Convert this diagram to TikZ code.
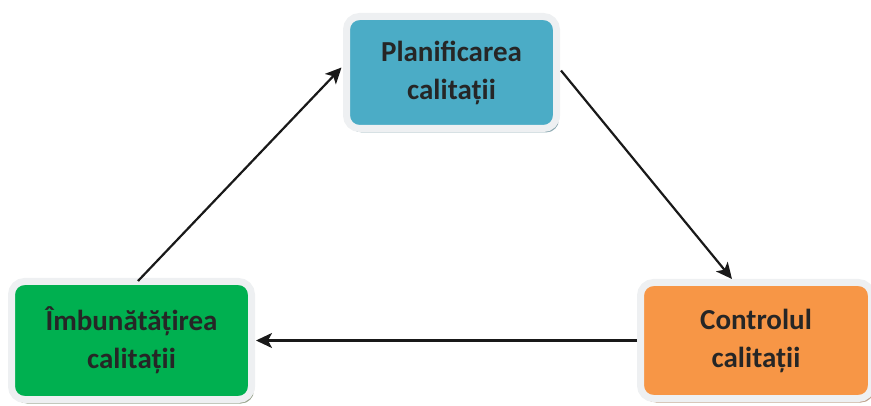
\documentclass[tikz,border=0pt]{standalone}
\usepackage{fontspec}
\setmainfont{Carlito}
\usetikzlibrary{arrows.meta,shadows}
\definecolor{cblue}{HTML}{4BACC6}
\definecolor{cgreen}{HTML}{00B050}
\definecolor{corange}{HTML}{F79646}
\definecolor{cframe}{HTML}{EEF0F2}
\definecolor{ctext}{HTML}{262626}
\definecolor{sblue}{HTML}{8EAAB2}
\definecolor{sgreen}{HTML}{9AA48E}
\definecolor{sorange}{HTML}{BFA08A}
\tikzset{
  box/.style={draw=cframe, line width=7pt, rounded corners=13pt, align=center,
    font=\fontsize{29}{38}\selectfont\bfseries, text=ctext, inner sep=0pt},
  shad/.style={drop shadow={shadow xshift=2.5pt, shadow yshift=-4pt, fill=#1, opacity=1}},
  arr/.style={line width=2.2pt, draw=black!90, -{Stealth[length=16pt,width=15pt,inset=4pt]}}
}
\begin{document}
\begin{tikzpicture}[x=1pt,y=-1pt]
\useasboundingbox (0,0) rectangle (871,406);
\node[box, shad=sblue, fill=cblue, minimum width=210pt, minimum height=112pt] (T) at (451.5,72.5) {Planificarea\\calitații};
\node[box, shad=sgreen, fill=cgreen, minimum width=240pt, minimum height=118pt] (L) at (131.5,340.5) {Îmbunătățirea\\calitații};
\node[box, shad=sorange, fill=corange, minimum width=231pt, minimum height=116pt] (R) at (756,340.5) {Controlul\\calitații};
\draw[arr] ([xshift=6.5pt,yshift=-3pt]L.north) -- ([xshift=-1.5pt,yshift=5pt]T.west);
\draw[arr] ([xshift=1pt,yshift=2pt]T.east) -- ([xshift=-24pt,yshift=0pt]R.north);
\draw[arr] (R.west) -- ([xshift=1pt]L.east);
\end{tikzpicture}
\end{document}
